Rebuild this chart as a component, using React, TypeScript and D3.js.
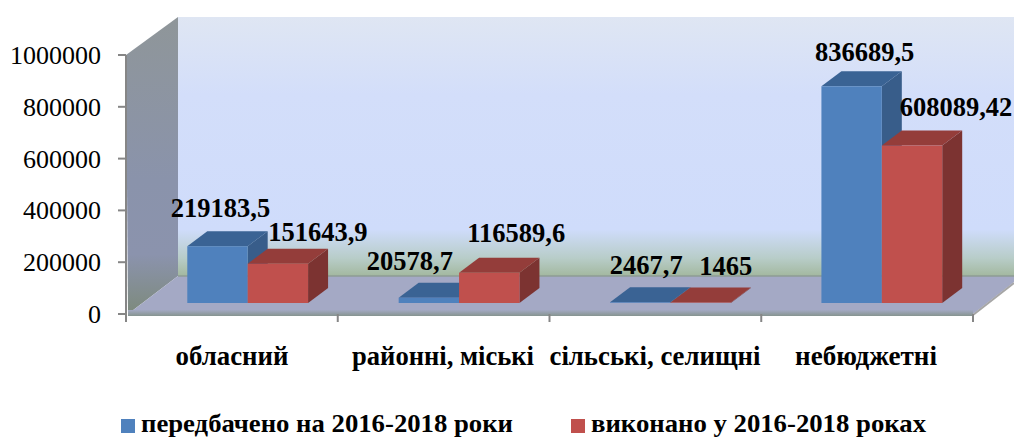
import React from "react";
import * as d3 from "d3";

const categories = ["обласний", "районні, міські", "сільські, селищні", "небюджетні"];
const planned = [219183.5, 20578.7, 2467.7, 836689.5];
const done = [151643.9, 116589.6, 1465, 608089.42];
const plannedLabels = ["219183,5", "20578,7", "2467,7", "836689,5"];
const doneLabels = ["151643,9", "116589,6", "1465", "608089,42"];
const yTicks = [0, 200000, 400000, 600000, 800000, 1000000];
const seriesNames = ["передбачено на 2016-2018 роки", "виконано у 2016-2018 роках"];

// layout only
const left = 126, right = 973, y0 = 314, y1 = 55;
const wallDx = 52, wallDy = -38;
const barDx = 20, barDy = -15, barInset = 11.5;
const plannedNudge = [[3, -29], [-19, -28], [6, -28], [13, -25]];
const doneNudge = [[40, -23], [27, -31], [25, -28], [44, -30]];
const catWidths = [113, 182, 211, 142];
const catCx = [232, 443, 655, 866];
const serif = "'Liberation Serif', 'Times New Roman', serif";

const y = d3.scaleLinear().domain([0, 1000000]).range([y0, y1]);
const band = d3
  .scaleBand<string>()
  .domain(categories)
  .range([left + 16, right + 14.5])
  .paddingInner(0.4286)
  .paddingOuter(0.2143);
const bw = band.bandwidth() / 2;
const h = (v: number) => y(0) - y(v);
const pts = (p: number[][]) => p.map((a) => a.join(",")).join(" ");

function Bar({ x, v, front, side, top }: { x: number; v: number; front: string; side: string; top: string }) {
  const b = y0 - barInset + 0.5;
  const t = b - h(v);
  return (
    <g>
      <polygon points={pts([[x + bw, t], [x + bw + barDx, t + barDy], [x + bw + barDx, b + barDy], [x + bw, b]])} fill={side} />
      <polygon points={pts([[x, t], [x + barDx, t + barDy], [x + bw + barDx, t + barDy], [x + bw, t]])} fill={top} />
      <rect x={x} y={t} width={bw} height={b - t} fill={front} />
    </g>
  );
}

export default function App() {
  const backX = left + wallDx;
  const backB = y0 + wallDy;
  const backT = y1 + wallDy;
  return (
    <svg width={1014} height={438} style={{ position: "absolute", left: 0, top: 0, display: "block" }} fontFamily={serif}>
      <defs>
        <linearGradient id="back" x1="0" y1="0" x2="0" y2="1">
          <stop offset="0" stopColor="#dfe6f3" />
          <stop offset="0.3" stopColor="#d3defa" />
          <stop offset="0.82" stopColor="#cfdcfb" />
          <stop offset="0.93" stopColor="#b8cdc9" />
          <stop offset="1" stopColor="#a3b89f" />
        </linearGradient>
        <linearGradient id="side" x1="0" y1="0" x2="0" y2="1">
          <stop offset="0" stopColor="#8f9699" />
          <stop offset="0.55" stopColor="#8a93ab" />
          <stop offset="0.8" stopColor="#8b93ad" />
          <stop offset="1" stopColor="#7d8a7c" />
        </linearGradient>
        <linearGradient id="strip" x1="0" y1="0" x2="0" y2="1">
          <stop offset="0" stopColor="#a3a9c3" />
          <stop offset="1" stopColor="#869490" />
        </linearGradient>
      </defs>

      <rect x={backX} y={backT} width={1014 - backX} height={backB - backT} fill="url(#back)" />
      <polygon points={pts([[left, y1], [backX, backT], [backX, backB], [left + 2, y0]])} fill="url(#side)" />
      <polygon points={pts([[left + 2, y0], [backX, backB], [1014, backB], [1014, y0 - 32], [right, y0]])} fill="#a4a9c5" />
      <line x1={backX} x2={1014} y1={backB} y2={backB} stroke="#8e9c94" strokeWidth={1.5} />
      <rect x={left + 2} y={y0 - 4} width={right - left - 2} height={6} fill="url(#strip)" />
      <line x1={right} y1={y0 + 1} x2={1014} y2={y0 - 31} stroke="#a6a6a6" strokeWidth={2} />

      <line x1={left} x2={left} y1={y1} y2={y0 + 8} stroke="#868686" strokeWidth={2} />
      {yTicks.map((t) => (
        <g key={t}>
          <line x1={left - 8} x2={left} y1={y(t)} y2={y(t)} stroke="#868686" strokeWidth={2} />
          <text x={101} y={y(t) + 9} textAnchor="end" fontSize={26} fill="#000">{t}</text>
        </g>
      ))}
      {d3.range(5).map((i) => {
        const x = left + ((right - left) * i) / 4;
        return <line key={i} x1={x} x2={x} y1={y0} y2={y0 + 8} stroke="#868686" strokeWidth={2} />;
      })}

      {categories.map((c, i) => {
        const x = band(c)!;
        return (
          <g key={c}>
            <Bar x={x} v={planned[i]} front="#4f81bd" side="#385d8a" top="#3a6394" />
            <Bar x={x + bw} v={done[i]} front="#c0504d" side="#7c3331" top="#943d3a" />
          </g>
        );
      })}

      {categories.map((c, i) => {
        const x = band(c)!;
        const b = y0 - barInset + 0.5;
        return (
          <g key={c} fontWeight="bold" fontSize={26.5} textAnchor="middle" fill="#000">
            <text x={x + bw / 2 + plannedNudge[i][0]} y={b - h(planned[i]) + plannedNudge[i][1]}>{plannedLabels[i]}</text>
            <text x={x + bw * 1.5 + doneNudge[i][0]} y={b - h(done[i]) + doneNudge[i][1]}>{doneLabels[i]}</text>
            <text x={catCx[i]} y={365} fontSize={28} textLength={catWidths[i]} lengthAdjust="spacingAndGlyphs">{c}</text>
          </g>
        );
      })}

      <rect x={121} y={419} width={14} height={14} fill="#4f81bd" />
      <text x={141} y={432} fontWeight="bold" fontSize={26} textLength={372} lengthAdjust="spacingAndGlyphs">{seriesNames[0]}</text>
      <rect x={571} y={419} width={14} height={14} fill="#c0504d" />
      <text x={591} y={432} fontWeight="bold" fontSize={26} textLength={335} lengthAdjust="spacingAndGlyphs">{seriesNames[1]}</text>
    </svg>
  );
}
